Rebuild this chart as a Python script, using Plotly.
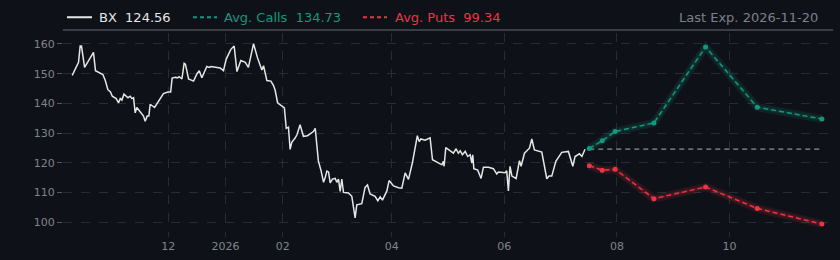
import pandas as pd
import plotly.graph_objects as go

# ---- data ----
price_base = "2025-10-10"
# days since price_base
price_day = [0.0, 3.4, 4.3, 5.0, 6.7, 11.5, 12.6, 16.6, 17.9, 19.3, 20.7, 21.7, 23.8, 25.1, 26.0, 26.9,
             28.0, 30.2, 31.4, 32.3, 33.2, 34.1, 35.0, 36.8, 38.6, 39.5, 40.6, 41.5, 42.2, 44.6, 47.3,
             49.4, 51.8, 53.3, 54.1, 55.8, 57.0, 57.9, 59.4, 60.6, 61.3, 63.0, 65.7, 67.5, 68.8, 70.2,
             72.9, 74.2, 75.1, 80.1, 81.9, 83.4, 85.9, 87.7, 89.2, 91.3, 93.7, 95.4, 98.2, 100.3,
             102.7, 103.6, 105.4, 107.6, 109.0, 109.9, 111.2, 113.5, 114.9, 115.9, 117.1, 118.0,
             118.9, 120.7, 121.7, 123.4, 125.2, 127.4, 130.6, 131.6, 132.5, 133.3, 134.8, 136.1,
             137.0, 137.9, 138.8, 139.7, 140.9, 142.4, 143.3, 144.2, 145.1, 146.0, 146.9, 149.6,
             151.4, 153.2, 154.1, 156.8, 158.6, 159.9, 161.3, 164.0, 165.5, 166.8, 168.0, 170.4,
             171.6, 174.0, 176.7, 178.5, 180.3, 182.1, 184.2, 185.7, 186.9, 187.9, 188.8, 191.1,
             192.9, 193.8, 195.1, 198.3, 200.2, 201.0, 201.4, 202.3, 204.1, 206.4, 207.9, 209.1,
             210.1, 211.3, 212.8, 214.2, 215.5, 216.4, 216.9, 217.5, 219.6, 221.4, 222.7, 225.4,
             228.1, 229.9, 230.8, 234.4, 235.3, 236.2, 237.1, 238.1, 240.4, 242.2, 243.1, 244.9,
             247.6, 248.9, 250.3, 252.5, 254.3, 257.0, 258.2, 259.7, 261.9, 265.1, 268.7, 271.1,
             272.3, 274.7, 276.0, 277.7]
price_val = [149.4, 153.8, 159.3, 159.3, 152.1, 157.2, 151.0, 149.7, 147.7, 144.6, 143.8, 142.4, 141.6,
             140.2, 141.6, 141.1, 143.1, 141.9, 142.4, 141.6, 141.9, 136.8, 138.6, 137.2, 135.7,
             134.0, 135.7, 135.7, 139.7, 138.6, 141.1, 143.3, 143.8, 143.8, 148.5, 148.8, 148.6,
             149.0, 148.2, 153.5, 153.2, 148.2, 147.5, 149.9, 151.0, 148.6, 152.4, 152.1, 152.4,
             151.9, 151.0, 154.9, 158.2, 159.3, 150.7, 154.4, 153.8, 152.1, 160.1, 155.4, 151.2,
             152.7, 147.7, 147.5, 146.0, 144.4, 140.2, 139.2, 138.5, 131.6, 132.0, 124.5, 126.9,
             128.3, 129.4, 132.8, 128.9, 129.1, 130.5, 131.6, 125.5, 120.6, 117.2, 113.4, 115.0,
             117.2, 116.9, 113.2, 114.5, 114.7, 113.4, 114.5, 110.3, 114.5, 110.0, 109.8, 108.7,
             101.4, 105.8, 106.2, 111.7, 112.5, 109.5, 108.7, 107.2, 108.5, 107.4, 110.5, 114.0,
             112.2, 111.6, 111.4, 116.6, 114.4, 119.9, 124.9, 129.1, 127.1, 128.0, 127.6, 128.0,
             128.4, 121.0, 119.9, 119.3, 120.5, 118.8, 125.1, 124.3, 123.2, 124.7, 123.2, 124.0,
             122.7, 123.8, 122.1, 122.7, 119.9, 122.7, 118.0, 117.5, 114.7, 118.5, 118.5, 118.0,
             116.2, 116.9, 116.6, 117.3, 110.5, 118.8, 115.5, 114.7, 120.7, 118.8, 123.2, 124.9,
             128.0, 124.3, 123.8, 123.6, 114.6, 115.5, 115.5, 120.5, 123.5, 123.8, 118.8, 122.1,
             123.0, 122.1, 124.56]

expiries = ["2026-07-17", "2026-07-24", "2026-07-31", "2026-08-21", "2026-09-18", "2026-10-16", "2026-11-20"]
avg_calls = [124.8, 127.4, 130.5, 133.4, 159.0, 138.7, 134.73]
avg_puts = [119.0, 117.5, 117.8, 107.9, 111.8, 104.6, 99.34]

ticker = "BX"
last_price = 124.56
last_exp = "2026-11-20"

x_tickvals = ["2025-12-01", "2026-01-01", "2026-02-01", "2026-04-01", "2026-06-01", "2026-08-01", "2026-10-01"]
x_ticktext = ["12", "2026", "02", "04", "06", "08", "10"]
y_tickvals = [100, 110, 120, 130, 140, 150, 160]
x_range = ["2025-10-05", "2026-11-26"]
y_range = [97.0, 163.7]

# ---- styles ----
BG = "#0f1118"
WHITE = "#e6e6e6"
GREEN = "#11997f"
RED = "#ee3344"
GRID = "#272b33"
TICK = "#80848c"
FONT = "DejaVu Sans"

ML, MR, MT, MB = 63, 7, 33, 26
PW, PH = 840 - ML - MR, 260 - MT - MB


def px(xp):
    return (xp - ML) / PW


def py(yp):
    return 1 + (MT - yp) / PH


price_x = pd.Timestamp(price_base) + pd.to_timedelta(price_day, unit="D")

fig = go.Figure()

fig.add_trace(go.Scatter(x=price_x, y=price_val, mode="lines",
                         line=dict(color=WHITE, width=1.5),
                         name=f"{ticker}  {last_price:.2f}", hoverinfo="skip"))

# reference line at last price
fig.add_trace(go.Scatter(x=[expiries[0], expiries[-1]], y=[last_price, last_price], mode="lines",
                         line=dict(color="#8d9096", width=1.2, dash="5px,4px"),
                         hoverinfo="skip"))

# glows
for vals, col in ((avg_calls, GREEN), (avg_puts, RED)):
    fig.add_trace(go.Scatter(x=expiries, y=vals, mode="lines",
                             line=dict(color=col, width=8), opacity=0.12, hoverinfo="skip"))
    fig.add_trace(go.Scatter(x=expiries, y=vals, mode="lines",
                             line=dict(color=col, width=4), opacity=0.12, hoverinfo="skip"))

fig.add_trace(go.Scatter(x=expiries, y=avg_calls, mode="lines+markers",
                         line=dict(color=GREEN, width=1.5, dash="5px,3px"),
                         marker=dict(color=GREEN, size=5),
                         name=f"Avg. Calls  {avg_calls[-1]:.2f}"))
fig.add_trace(go.Scatter(x=expiries, y=avg_puts, mode="lines+markers",
                         line=dict(color=RED, width=1.5, dash="5px,3px"),
                         marker=dict(color=RED, size=5),
                         name=f"Avg. Puts  {avg_puts[-1]:.2f}"))

# custom legend (line sample + label)
legend_items = [
    (f"{ticker}  {last_price:.2f}", WHITE, "solid", 67, 92, 97),
    (f"Avg. Calls  {avg_calls[-1]:.2f}", GREEN, "4px,3px", 193, 217, 222),
    (f"Avg. Puts  {avg_puts[-1]:.2f}", RED, "4px,3px", 363, 387, 393),
]
LY = 17
shapes = [dict(type="line", xref="paper", yref="paper", x0=0, x1=1,
               y0=py(30), y1=py(30), line=dict(color="#3a3d44", width=2))]
annotations = []
for label, col, dash, x0, x1, xt in legend_items:
    shapes.append(dict(type="line", xref="paper", yref="paper", x0=px(x0), x1=px(x1),
                       y0=py(LY), y1=py(LY), line=dict(color=col, width=2, dash=dash)))
    annotations.append(dict(xref="paper", yref="paper", x=px(xt), y=py(LY),
                            xanchor="left", yanchor="middle", showarrow=False,
                            text=label, font=dict(size=13, color=col)))
annotations.append(dict(xref="paper", yref="paper", x=px(820), y=py(LY),
                        xanchor="right", yanchor="middle", showarrow=False,
                        text=f"Last Exp. {last_exp}", font=dict(size=13, color="#7d8088")))

fig.update_layout(
    width=840, height=260,
    margin=dict(l=ML, r=MR, t=MT, b=MB),
    paper_bgcolor=BG, plot_bgcolor=BG,
    font=dict(family=FONT, color=TICK, size=11),
    showlegend=False,
    xaxis=dict(type="date", range=x_range, tickvals=x_tickvals, ticktext=x_ticktext,
               showgrid=True, gridcolor=GRID, griddash="dash", gridwidth=1,
               ticks="outside", ticklen=5, tickcolor=GRID, zeroline=False,
               showline=False, tickfont=dict(size=11, color=TICK)),
    yaxis=dict(range=y_range, tickvals=y_tickvals,
               showgrid=True, gridcolor=GRID, griddash="dash", gridwidth=1,
               ticks="outside", ticklen=5, tickcolor="#555a62", zeroline=False,
               showline=False, tickfont=dict(size=11, color=TICK)),
    shapes=shapes,
    annotations=annotations,
)

fig.write_html("out.html")
